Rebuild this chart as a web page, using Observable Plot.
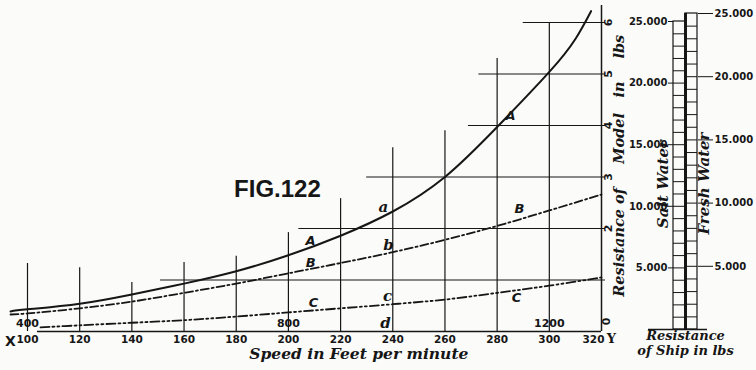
<!DOCTYPE html>
<html><head><meta charset="utf-8">
<script src="https://cdn.jsdelivr.net/npm/d3@7"></script>
<script src="https://cdn.jsdelivr.net/npm/@observablehq/plot@0.6"></script>
<style>
html,body{margin:0;padding:0;background:#fbfbfa;}
#chart{position:relative;width:756px;height:370px;overflow:hidden;background:#fbfbfa;}
#chart svg{position:absolute;left:0;top:0;}
</style></head><body><div id="chart"></div>
<script>
const ink = "#161616";
const serif = "DejaVu Serif";
const sans = "DejaVu Sans";

// ---- main chart data (speed in feet per minute, model resistance in lbs) ----
const xTicks = [100, 120, 140, 160, 180, 200, 220, 240, 260, 280, 300, 320];
const yTickLabels = [2, 3, 4, 5, 6];
const secondarySpeeds = [100, 200, 300];
const secondaryLabels = ["400", "800", "1200"];

const curveASpeed = [93.5, 100, 120, 140, 160, 180, 200, 220, 240, 260, 280, 300, 310, 316];
const curveAValue = [0.39, 0.43, 0.54, 0.72, 0.93, 1.17, 1.48, 1.86, 2.33, 3.0, 3.97, 5.04, 5.68, 6.22];
const curveBSpeed = [93.5, 100, 120, 140, 160, 180, 200, 220, 240, 260, 280, 300, 320];
const curveBValue = [0.33, 0.35, 0.45, 0.58, 0.75, 0.93, 1.13, 1.33, 1.54, 1.78, 2.05, 2.35, 2.66];
const curveCSpeed = [105, 120, 140, 160, 180, 200, 220, 240, 260, 280, 300, 320];
const curveCValue = [0.08, 0.12, 0.17, 0.22, 0.29, 0.37, 0.45, 0.53, 0.62, 0.75, 0.89, 1.05];

// construction lines of the figure
const gridSpeeds = [100, 120, 140, 160, 180, 200, 220, 240, 260, 280, 300];
const gridTops = [1.32, 1.24, 0.95, 1.34, 1.46, 1.92, 2.58, 3.57, 3.9, 5.3, 6.0];
const axisTop = 6.33;
const gridLevels = [1, 2, 3, 4, 5, 6];
const gridStarts = [151, 204, 230, 269, 273, 290];

// curve letters
const upperLabels = ["A", "B", "C", "B", "A", "C"];
const upperSpeed = [208.5, 208.5, 209.6, 288.6, 285.1, 287.4];
const upperValue = [1.77, 1.34, 0.56, 2.39, 4.19, 0.66];
const lowerLabels = ["a", "b", "c", "d"];
const lowerSpeed = [236.4, 238.4, 238, 237.2];
const lowerValue = [2.41, 1.67, 0.68, 0.17];

const titleParts = ["Resistance of", "Model", "in", "lbs"];
const titleValues = [1.73, 3.75, 4.7, 5.53];

// ---- ship-resistance scales ----
const ladders = ["Salt Water", "Fresh Water"];
const ladderTop = 25000;
const shipTicks = [5000, 10000, 15000, 20000, 25000];
const shipTickLabels = ["5.000", "10.000", "15.000", "20.000", "25.000"];
const rungs = [1000, 2000, 3000, 4000, 5000, 6000, 7000, 8000, 9000, 10000, 11000, 12000,
  13000, 14000, 15000, 16000, 17000, 18000, 19000, 20000, 21000, 22000, 23000, 24000];
const ladderLabelValue = [11800, 11550];

const zip = (xs, ys, extra) => xs.map((x, i) => ({x, y: ys[i], t: extra ? extra[i] : undefined}));
const tickLabel = new Map(shipTicks.map((t, i) => [t, shipTickLabels[i]]));

const baseStyle = {fontFamily: sans, fontSize: "10px", fontWeight: "bold", color: ink, overflow: "visible"};

const main = Plot.plot({
  width: 756, height: 370,
  marginLeft: 27, marginRight: 155, marginTop: 22, marginBottom: 39,
  x: {domain: [100, 320], axis: null},
  y: {domain: [0, 6], axis: null},
  style: {...baseStyle, background: "#fbfbfa"},
  marks: [
    Plot.ruleX(zip(gridSpeeds, gridTops), {x: "x", y1: 0, y2: "y", stroke: ink, strokeWidth: 1.2}),
    Plot.ruleX([xTicks[xTicks.length - 1]], {x: d => d, y1: 0, y2: axisTop, stroke: ink, strokeWidth: 1.5}),
    Plot.ruleY(zip(gridLevels, gridStarts), {y: "x", x1: "y", x2: 320, insetRight: -4, stroke: ink, strokeWidth: 1.2}),
    Plot.ruleY([0], {x1: 100, x2: 320, insetLeft: 10, stroke: ink, strokeWidth: 1.5}),
    Plot.line(zip(curveASpeed, curveAValue), {x: "x", y: "y", curve: "natural", stroke: ink, strokeWidth: 2}),
    Plot.line(zip(curveBSpeed, curveBValue), {x: "x", y: "y", curve: "catmull-rom", stroke: ink, strokeWidth: 1.8, strokeDasharray: "8,3,2,3"}),
    Plot.line(zip(curveCSpeed, curveCValue), {x: "x", y: "y", curve: "catmull-rom", stroke: ink, strokeWidth: 1.8, strokeDasharray: "9,3,2,3,2,3"}),
    Plot.text(zip(upperSpeed, upperValue, upperLabels), {x: "x", y: "y", text: "t", fontFamily: sans, fontStyle: "italic", fontWeight: "bold", fontSize: 13, fill: ink}),
    Plot.text(zip(lowerSpeed, lowerValue, lowerLabels), {x: "x", y: "y", text: "t", fontFamily: serif, fontStyle: "italic", fontWeight: "bold", fontSize: 15, fill: ink}),
    // bottom tick labels
    Plot.text(xTicks.filter(d => d < 320), {x: d => d, y: 0, dy: 8, text: d => String(d), fontSize: 10.5, fill: ink}),
    Plot.text(xTicks.filter(d => d === 320), {x: d => d, y: 0, dy: 8, dx: -8, text: d => String(d), fontSize: 10.5, fill: ink}),
    Plot.text(["X"], {x: 100, y: 0, dx: -17, dy: 10, text: d => d, fontSize: 14, fill: ink}),
    Plot.text(["Y"], {x: 320, y: 0, dx: 10, dy: 7, text: d => d, fontFamily: serif, fontSize: 13, fill: ink}),
    Plot.text(zip(secondarySpeeds, secondaryLabels), {x: "x", y: 0, dy: -8, text: "y", fontSize: 11, fill: ink}),
    // right axis labels
    Plot.text(yTickLabels, {x: 320, y: d => d, dx: 7, rotate: -90, text: d => String(d), fontSize: 11, fill: ink}),
    Plot.text([0], {x: 320, y: 0, dx: 5, dy: -10, rotate: -90, text: d => String(d), fontSize: 11, fill: ink}),
    Plot.text(zip(titleValues, titleParts), {x: 320, y: "x", text: "y", dx: 18, rotate: -90, fontFamily: serif, fontStyle: "italic", fontWeight: "bold", fontSize: 14.5, fill: ink}),
    Plot.text(["FIG.122"], {x: 195.8, y: 2.76, text: d => d, fontFamily: "Liberation Sans", fontWeight: "bold", fontSize: 24, fill: ink}),
    Plot.text(["Speed in Feet per minute"], {x: 227, frameAnchor: "bottom", dy: 27, text: d => d, fontFamily: serif, fontStyle: "italic", fontWeight: "bold", fontSize: 15.5, fill: ink})
  ]
});

const ladderX = {type: "band", domain: ladders, padding: 0, axis: null};

const salt = Plot.plot({
  width: 756, height: 370,
  marginLeft: 673, marginRight: 59, marginTop: 21, marginBottom: 41,
  x: ladderX,
  y: {domain: [0, ladderTop], axis: "left", ticks: shipTicks, tickSize: 5, tickPadding: 1, tickFormat: d => tickLabel.get(d), label: null},
  style: {...baseStyle, background: "transparent"},
  marks: [
    Plot.barY([ladders[0]], {x: d => d, y1: 0, y2: ladderTop, fill: "none", stroke: ink, strokeWidth: 1.2}),
    Plot.tickY(rungs, {x: () => ladders[0], y: d => d, stroke: ink, strokeWidth: 1}),
    Plot.ruleY([0], {insetLeft: -25, insetRight: -10, stroke: ink, strokeWidth: 1.5}),
    Plot.text([ladders[0]], {x: d => d, y: ladderLabelValue[0], dx: -16, rotate: -90, text: d => d, fontFamily: serif, fontStyle: "italic", fontWeight: "bold", fontSize: 15, fill: ink}),
    Plot.text(["Resistance"], {frameAnchor: "bottom", dy: 10, text: d => d, fontFamily: serif, fontStyle: "italic", fontWeight: "bold", fontSize: 13, fill: ink}),
    Plot.text(["of Ship in lbs"], {frameAnchor: "bottom", dy: 25, text: d => d, fontFamily: serif, fontStyle: "italic", fontWeight: "bold", fontSize: 13, fill: ink})
  ]
});

const fresh = Plot.plot({
  width: 756, height: 370,
  marginLeft: 673, marginRight: 59, marginTop: 13, marginBottom: 41,
  x: ladderX,
  y: {domain: [0, ladderTop], axis: "right", ticks: shipTicks, tickSize: 15, tickPadding: 2, tickFormat: d => tickLabel.get(d), label: null},
  style: {...baseStyle, background: "transparent"},
  marks: [
    Plot.barY([ladders[1]], {x: d => d, y1: 0, y2: ladderTop, fill: "none", stroke: ink, strokeWidth: 1.2}),
    Plot.barY([ladders[1]], {x: d => d, y1: 0, y2: ladderTop, fill: ink, insetLeft: -1, insetRight: 10}),
    Plot.tickY(rungs, {x: () => ladders[1], y: d => d, stroke: ink, strokeWidth: 1}),
    Plot.text([ladders[1]], {x: d => d, y: ladderLabelValue[1], dx: 13, rotate: -90, text: d => d, fontFamily: serif, fontStyle: "italic", fontWeight: "bold", fontSize: 15, fill: ink})
  ]
});

const el = document.getElementById("chart");
el.appendChild(main);
el.appendChild(salt);
el.appendChild(fresh);
</script></body></html>
